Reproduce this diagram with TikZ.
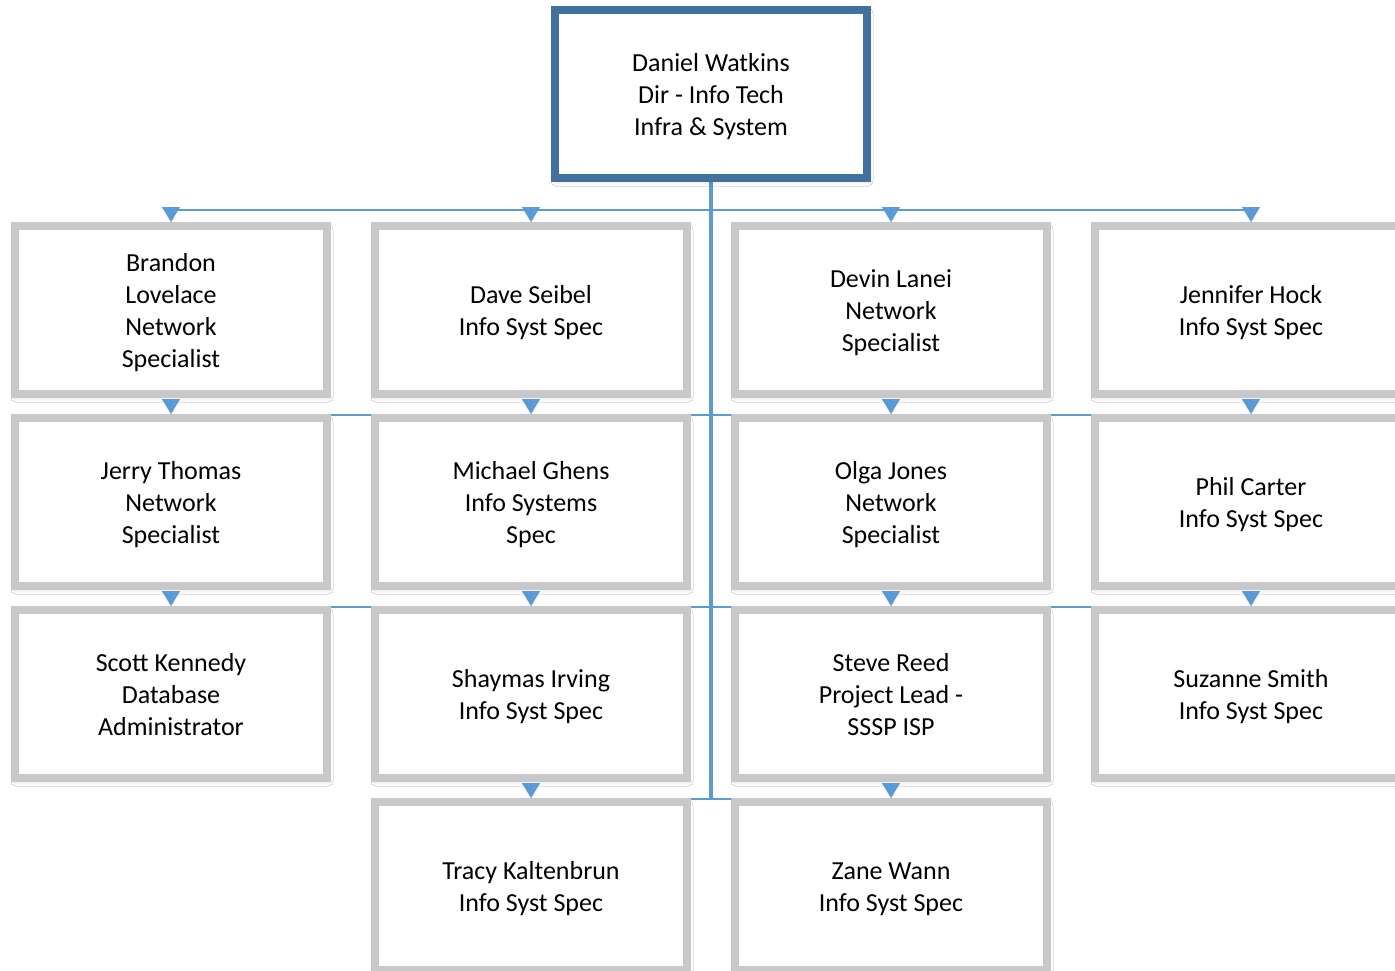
\documentclass[tikz,border=0pt]{standalone}
\usepackage{fontspec}
\setmainfont{Carlito}
\usetikzlibrary{arrows.meta,shadows.blur,calc}
\pgfdeclarelayer{background}
\pgfsetlayers{background,main}
\definecolor{topblue}{RGB}{65,113,156}
\definecolor{boxgray}{RGB}{200,200,200}
\definecolor{connblue}{RGB}{91,155,213}
\newcommand{\lines}[1]{\raisebox{-3pt}[\height][\depth]{\begin{tabular}{@{}c@{}}#1\end{tabular}}}
\tikzset{
  boxbase/.style={line width=8pt, fill=white, minimum width=312pt, minimum height=168pt,
    align=center, inner sep=0pt, font=\fontsize{26}{32}\selectfont,
    blur shadow={shadow xshift=1pt, shadow yshift=-3pt, shadow blur radius=5pt,
      shadow opacity=18}},
  person/.style={boxbase, draw=boxgray},
  headbox/.style={boxbase, draw=topblue},
  conn/.style={draw=connblue, line width=2.2pt},
  trunkline/.style={draw=connblue, line width=3.5pt},
  arr/.style={draw=connblue, fill=connblue, line width=0.1pt,
    -{Triangle[width=18pt,length=15pt]}}
}
\begin{document}
\begin{tikzpicture}[x=1pt,y=-1pt]
\useasboundingbox (0,0) rectangle (1395,971);

\node[headbox] (top) at (711,94) {\lines{Daniel Watkins\\Dir - Info Tech\\Infra \& System}};

% row 1
\node[person] (b11) at (171,310) {\lines{Brandon\\Lovelace\\Network\\Specialist}};
\node[person] (b12) at (531,310) {\lines{Dave Seibel\\Info Syst Spec}};
\node[person] (b13) at (891,310) {\lines{Devin Lanei\\Network\\Specialist}};
\node[person] (b14) at (1251,310) {\lines{Jennifer Hock\\Info Syst Spec}};
% row 2
\node[person] (b21) at (171,502) {\lines{Jerry Thomas\\Network\\Specialist}};
\node[person] (b22) at (531,502) {\lines{Michael Ghens\\Info Systems\\Spec}};
\node[person] (b23) at (891,502) {\lines{Olga Jones\\Network\\Specialist}};
\node[person] (b24) at (1251,502) {\lines{Phil Carter\\Info Syst Spec}};
% row 3
\node[person] (b31) at (171,694) {\lines{Scott Kennedy\\Database\\Administrator}};
\node[person] (b32) at (531,694) {\lines{Shaymas Irving\\Info Syst Spec}};
\node[person] (b33) at (891,694) {\lines{Steve Reed\\Project Lead -\\SSSP ISP}};
\node[person] (b34) at (1251,694) {\lines{Suzanne Smith\\Info Syst Spec}};
% row 4
\node[person] (b42) at (531,886) {\lines{Tracy Kaltenbrun\\Info Syst Spec}};
\node[person] (b43) at (891,886) {\lines{Zane Wann\\Info Syst Spec}};

\coordinate (h1) at (0,210);
\coordinate (h2) at (0,415);
\coordinate (h3) at (0,607);
\coordinate (h4) at (0,799);

\begin{pgfonlayer}{background}
  \fill[white] (0,0) rectangle (1395,971);
  \draw[trunkline] (top.south) -- (top.south |- h4);
  \draw[conn] (b11.north |- h1) -- (b14.north |- h1);
  \draw[conn] (b21.north |- h2) -- (b24.north |- h2);
  \draw[conn] (b31.north |- h3) -- (b34.north |- h3);
  \draw[conn] (b42.north |- h4) -- (b43.north |- h4);
\end{pgfonlayer}

\foreach \n in {b11,b12,b13,b14,b21,b22,b23,b24,b31,b32,b33,b34,b42,b43}{
  \draw[arr] ($(\n.north)+(0,-15)$) -- (\n.north);
}
\end{tikzpicture}
\end{document}
